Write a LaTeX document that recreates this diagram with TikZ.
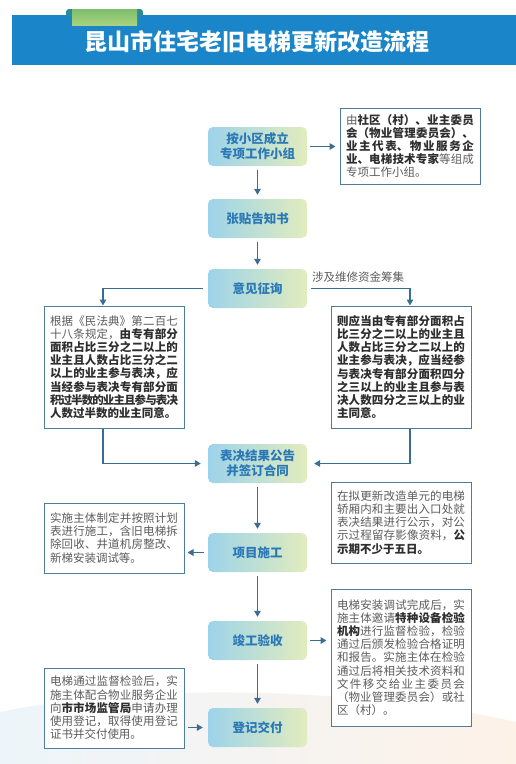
\documentclass[tikz,border=0pt]{standalone}
\usepackage{fontspec}
\setmainfont{Noto Sans CJK SC}
\usetikzlibrary{arrows.meta}
\XeTeXlinebreaklocale "zh"
\XeTeXlinebreakskip=0pt plus 3pt minus 2pt
\definecolor{bandC}{HTML}{1A85C8}
\definecolor{tabG}{HTML}{7DBE6C}
\definecolor{tabG2}{HTML}{A9D27F}
\definecolor{tabT}{HTML}{2A8A9A}
\definecolor{stepL}{HTML}{9DD3EA}
\definecolor{stepR}{HTML}{E2ECBE}
\definecolor{stepT}{HTML}{2A78B5}
\definecolor{noteB}{HTML}{4F7C9C}
\definecolor{noteT}{HTML}{5C5C5C}
\definecolor{boldT}{HTML}{2E2E2E}
\definecolor{arrowC}{HTML}{3B6D93}
\definecolor{swL}{HTML}{EDF5FA}
\definecolor{swR}{HTML}{FDF2E8}
\newcommand\bb[1]{\textcolor{boldT}{\bfseries #1}}
\newcommand\notefont{\fontsize{11.5}{13.2}\selectfont\tolerance=3000\relax}
\tikzset{
  stepbox/.style={rounded corners=5pt, minimum width=99pt, minimum height=39pt,
    left color=stepL, right color=stepR, text=stepT, inner sep=2pt,
    font={\bfseries\fontsize{12.5}{15}\selectfont}, align=center},
  notebox/.style={draw=noteB, line width=1pt, fill=white, text width=128pt,
    inner xsep=6pt, inner ysep=5pt, text=noteT, align=justify,
    font={\notefont}},
  arr/.style={draw=arrowC, line width=1.5pt, -{Triangle[length=6pt,width=6.5pt]}},
  lbl/.style={text=noteT, font={\fontsize{11.5}{13.2}\selectfont}, inner sep=0pt}
}
\begin{document}
\begin{tikzpicture}[x=1pt,y=-1pt]
\useasboundingbox (0,0) rectangle (516,764);
% faint background swoosh
\shade[left color=swL, right color=swR] (0,712) .. controls (150,680) and (380,690) .. (516,722)
  -- (516,764) -- (0,764) -- cycle;
% header
\fill[bandC] (12,15) rectangle (516,65);
\fill[tabT, rounded corners=3pt] (66,9) rectangle (143,17);
\shade[top color=tabG, bottom color=tabG2] (72,9) rectangle (137,25);
\node[text=white, font={\bfseries\fontsize{23}{26}\selectfont}] (title) at (257,42) {昆山市住宅老旧电梯更新改造流程};
% steps
\node[stepbox] (s1) at (257.5,146.5) {按小区成立\\专项工作小组};
\node[stepbox] (s2) at (257.5,218.5) {张贴告知书};
\node[stepbox] (s3) at (257.5,288.5) {意见征询};
\node[stepbox] (s4) at (257.5,463.5) {表决结果公告\\并签订合同};
\node[stepbox] (s5) at (257.5,552.5) {项目施工};
\node[stepbox] (s6) at (257.5,640.5) {竣工验收};
\node[stepbox] (s7) at (257.5,727.5) {登记交付};
% notes
\node[notebox, minimum height=76pt] (nA) at (410,146) {由\bb{社区（村）、业主委员\linebreak 会（物业管理委员会）、\linebreak 业主代表、物业服务企\linebreak 业、电梯技术专家}等组成\linebreak 专项工作小组。};
\node[notebox, minimum height=122pt] (nB) at (114,367) {根据《民法典》第二百七\linebreak 十八条规定，\bb{由专有部分\linebreak 面积占比三分之二以上的\linebreak 业主且人数占比三分之二\linebreak 以上的业主参与表决，应\linebreak 当经参与表决专有部分面\linebreak 积过半数的业主且参与表决\linebreak 人数过半数的业主同意。}};
\node[notebox, minimum height=122pt] (nC) at (401,367) {\bb{则应当由专有部分面积占\linebreak 比三分之二以上的业主且\linebreak 人数占比三分之二以上的\linebreak 业主参与表决，应当经参\linebreak 与表决专有部分面积四分\linebreak 之三以上的业主且参与表\linebreak 决人数四分之三以上的业\linebreak 主同意。}};
\node[notebox, minimum height=81pt] (nD) at (401,522.5) {在拟更新改造单元的电梯\linebreak 轿厢内和主要出入口处就\linebreak 表决结果进行公示，对公\linebreak 示过程留存影像资料，\bb{公\linebreak 示期不少于五日。}};
\node[notebox, minimum height=70pt] (nE) at (114,538) {实施主体制定并按照计划\linebreak 表进行施工，含旧电梯拆\linebreak 除回收、井道机房整改、\linebreak 新梯安装调试等。};
\node[notebox, minimum height=137pt] (nF) at (401,657.5) {电梯安装调试完成后，实\linebreak 施主体邀请\bb{特种设备检验\linebreak 机构}进行监督检验，检验\linebreak 通过后颁发检验合格证明\linebreak 和报告。实施主体在检验\linebreak 通过后将相关技术资料和\linebreak 文件移交给业主委员会\linebreak （物业管理委员会）或社\linebreak 区（村）。};
\node[notebox, minimum height=80pt] (nG) at (114,708) {电梯通过监督检验后，实\linebreak 施主体配合物业服务企业\linebreak 向\bb{市市场监管局}申请办理\linebreak 使用登记，取得使用登记\linebreak 证书并交付使用。};
% vertical arrows
\draw[arr] ([yshift=-4pt]s1.south) -- ([yshift=4pt]s2.north);
\draw[arr] ([yshift=-4pt]s2.south) -- ([yshift=4pt]s3.north);
\draw[arr] ([yshift=-4pt]s4.south) -- ([yshift=4pt]s5.north);
\draw[arr] ([yshift=-4pt]s5.south) -- ([yshift=4pt]s6.north);
\draw[arr] ([yshift=-4pt]s6.south) -- ([yshift=4pt]s7.north);
% side arrows
\draw[arr] ([xshift=3pt]s1.east) -- ([xshift=-4pt]s1.east -| nA.west);
\draw[arr] ([xshift=-5pt]s3.west) -| ([xshift=-11pt]nB.north);
\draw[arr] ([xshift=4pt]s3.east) -| ([xshift=9pt]nC.north);
\node[lbl, anchor=south west] (lab) at (312,283) {涉及维修资金筹集};
\draw[arr] ([xshift=-11pt]nB.south) |- ([xshift=-7pt]s4.west);
\draw[arr] ([xshift=9pt]nC.south) |- ([xshift=7pt]s4.east);
\draw[arr] ([xshift=-4pt]s5.west) -- ([xshift=3pt]s5.west -| nE.east);
\draw[arr] ([xshift=3pt]s6.east) -- ([xshift=-4pt]s6.east -| nF.west);
\draw[arr] ([xshift=3pt]s7.west -| nG.east) -- ([xshift=-5pt]s7.west);
\end{tikzpicture}
\end{document}
